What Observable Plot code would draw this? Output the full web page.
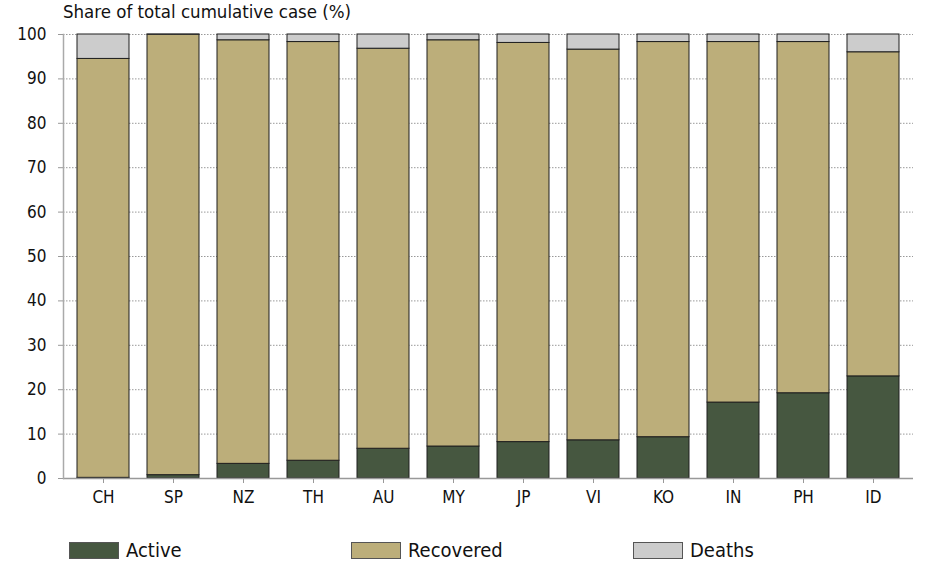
<!DOCTYPE html>
<html>
<head>
<meta charset="utf-8">
<script src="https://cdn.jsdelivr.net/npm/d3@7"></script>
<script src="https://cdn.jsdelivr.net/npm/@observablehq/plot@0.6"></script>
<style>
  html, body { margin: 0; padding: 0; background: #fff; }
  body { width: 925px; height: 565px; overflow: hidden; font-family: "DejaVu Sans Condensed", "DejaVu Sans", sans-serif; font-stretch: condensed; color: #111; }
  #title { height: 14px; line-height: 24px; padding-left: 63px; font-size: 18.5px; overflow: visible; white-space: nowrap; position: relative; z-index: 1; }
  #legend { display: flex; padding-left: 69px; margin-top: 20px; }
  .item { width: 282px; display: flex; align-items: center; font-size: 20px; }
  .sw { width: 48px; height: 15px; border: 1px solid #555; margin-right: 7px; }
</style>
</head>
<body>
<div id="title">Share of total cumulative case (%)</div>
<div id="chart"></div>
<div id="legend"></div>
<script>
const countries = ["CH","SP","NZ","TH","AU","MY","JP","VI","KO","IN","PH","ID"];
const active    = [0.15, 0.75, 3.3, 4.0, 6.7, 7.2, 8.2, 8.6, 9.3, 17.1, 19.2, 23.0];
const recovered = [94.35, 99.2, 95.4, 94.3, 90.1, 91.5, 89.9, 88.0, 89.0, 81.2, 79.1, 73.0];
const deaths    = [5.5, 0.05, 1.3, 1.7, 3.2, 1.3, 1.9, 3.4, 1.7, 1.7, 1.7, 4.0];
const series = ["Active", "Recovered", "Deaths"];
const colors = ["#465740", "#bcae7a", "#cccccc"];
const yTicks = [0,10,20,30,40,50,60,70,80,90,100];

const values = [active, recovered, deaths];
const data = [];
series.forEach((s, si) => countries.forEach((c, ci) => data.push({country: c, series: s, value: values[si][ci]})));

const chart = Plot.plot({
  width: 925,
  height: 504,
  marginTop: 20,
  marginLeft: 63,
  marginRight: 12,
  marginBottom: 40,
  style: {fontFamily: '"DejaVu Sans Condensed", "DejaVu Sans", sans-serif', fontSize: "17px", color: "#111", background: "transparent"},
  x: {domain: countries, paddingInner: 0.258, paddingOuter: 0.193, label: null},
  y: {domain: [0, 100], label: null},
  color: {domain: series, range: colors},
  marks: [
    Plot.gridY(yTicks, {stroke: "#999", strokeOpacity: 1, strokeDasharray: "1.5,1.5"}),
    Plot.barY(data, {x: "country", y: "value", fill: "series", stroke: "#1e1e1e", strokeWidth: 1, order: series}),
    Plot.ruleY([0], {stroke: "#999", strokeWidth: 1.5}),
    Plot.frame({anchor: "left", stroke: "#aaa", strokeWidth: 1.5}),
    Plot.axisY(yTicks, {tickSize: 5, tickPadding: 12, stroke: "#999", fill: "#111", label: null}),
    Plot.axisX({tickSize: 5, tickPadding: 7, stroke: "#999", fill: "#111", label: null})
  ]
});
document.getElementById("chart").appendChild(chart);

const legend = document.getElementById("legend");
series.forEach((s, i) => {
  const item = document.createElement("div");
  item.className = "item";
  const sw = document.createElement("div");
  sw.className = "sw";
  sw.style.background = colors[i];
  item.appendChild(sw);
  const t = document.createElement("span");
  t.textContent = s;
  item.appendChild(t);
  legend.appendChild(item);
});
</script>
</body>
</html>
